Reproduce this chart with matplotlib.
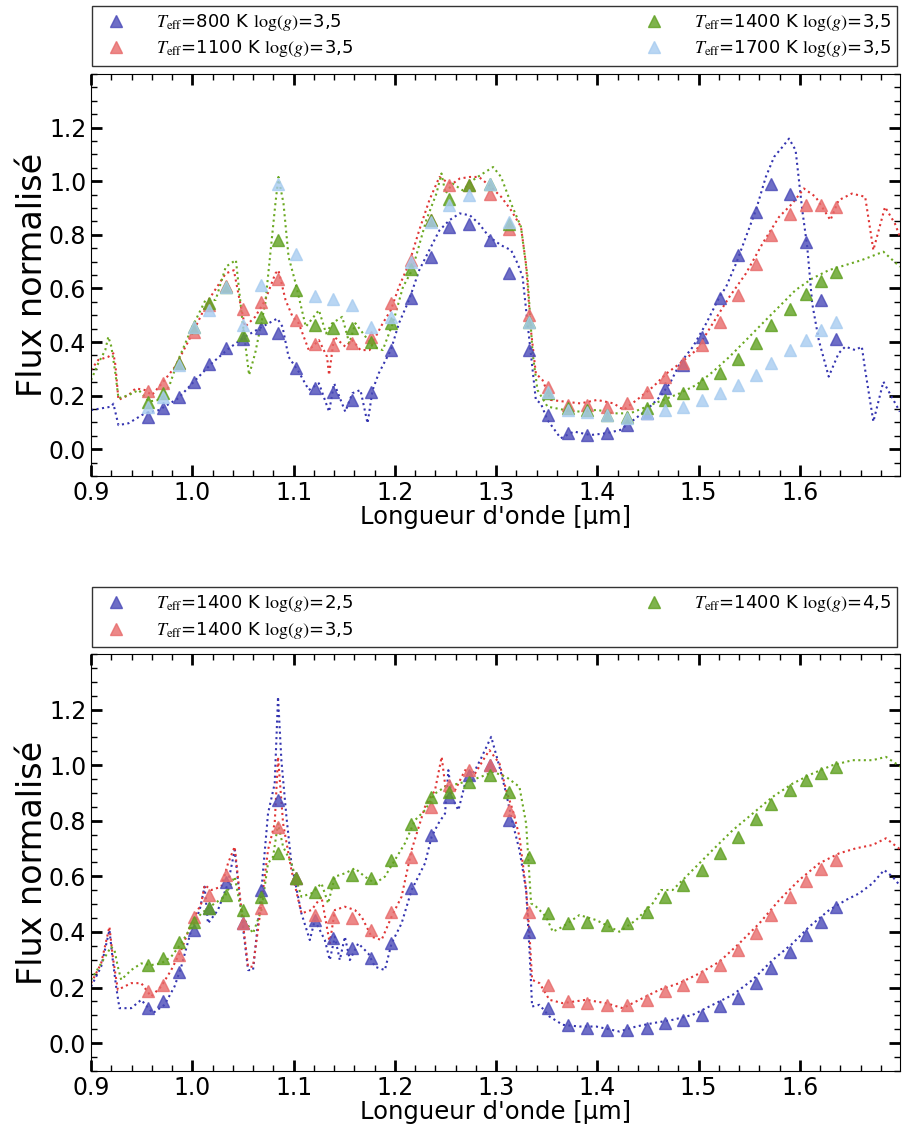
"""
Spectres normalisés : modèles vs points IFS (deux panneaux).
"""

import matplotlib
matplotlib.use("Agg")
import matplotlib.pyplot as plt
from matplotlib.ticker import MultipleLocator

plt.rcParams["mathtext.fontset"] = "stix"

# longueurs d'onde des canaux (µm)
CHANNELS = [0.956, 0.9707, 0.9865, 1.002, 1.0167, 1.0332, 1.0496, 1.0677, 1.0847, 1.1028,
            1.1209, 1.139, 1.158, 1.176, 1.1957, 1.2155, 1.2352, 1.2539, 1.2736, 1.2943,
            1.3123, 1.332, 1.351, 1.3707, 1.3895, 1.409, 1.4289, 1.4486, 1.4667, 1.4847,
            1.5028, 1.5209, 1.539, 1.557, 1.5718, 1.5898, 1.6062, 1.621, 1.6358]

# ---- panneau du haut : log(g)=3,5, Teff variable ----
pts_800 = [0.122, 0.153, 0.194, 0.25, 0.318, 0.376, 0.41, 0.451, 0.432, 0.304,
           0.227, 0.212, 0.184, 0.215, 0.37, 0.563, 0.718, 0.83, 0.842, 0.78,
           0.658, 0.37, 0.128, 0.06, 0.053, 0.062, 0.091, 0.135, 0.227, 0.314,
           0.42, 0.563, 0.724, 0.886, 0.991, 0.954, 0.774, 0.557, 0.41]
pts_1100 = [0.219, 0.246, 0.32, 0.438, 0.538, 0.609, 0.525, 0.55, 0.637, 0.484,
            0.393, 0.389, 0.395, 0.42, 0.544, 0.706, 0.855, 0.985, 0.985, 0.954,
            0.82, 0.50, 0.234, 0.165, 0.165, 0.159, 0.171, 0.215, 0.271, 0.32,
            0.389, 0.475, 0.575, 0.693, 0.799, 0.877, 0.911, 0.911, 0.904]
pts_1400 = [0.178, 0.209, 0.32, 0.457, 0.544, 0.606, 0.426, 0.494, 0.78, 0.594,
            0.463, 0.451, 0.451, 0.401, 0.47, 0.671, 0.855, 0.935, 0.985, 0.99,
            0.842, 0.476, 0.209, 0.153, 0.147, 0.128, 0.122, 0.153, 0.184, 0.209,
            0.246, 0.283, 0.335, 0.398, 0.463, 0.525, 0.581, 0.629, 0.662]
pts_1700 = [0.159, 0.196, 0.314, 0.457, 0.519, 0.606, 0.463, 0.612, 0.991, 0.73,
            0.571, 0.559, 0.538, 0.457, 0.494, 0.699, 0.848, 0.911, 0.948, 0.99,
            0.848, 0.476, 0.215, 0.147, 0.14, 0.128, 0.116, 0.134, 0.147, 0.159,
            0.184, 0.209, 0.24, 0.277, 0.32, 0.37, 0.407, 0.445, 0.476]

wl_800 = [0.9, 0.920, 0.922, 0.927, 0.937, 0.953, 0.967, 0.986, 1.003, 1.019, 1.036, 1.052,
          1.069, 1.084, 1.089, 1.095, 1.105, 1.115, 1.125, 1.135, 1.140, 1.151, 1.158, 1.166,
          1.173, 1.178, 1.184, 1.196, 1.204, 1.214, 1.224, 1.234, 1.244, 1.254, 1.264, 1.274,
          1.283, 1.293, 1.3049, 1.3147, 1.3212, 1.3261, 1.331, 1.336, 1.3392, 1.3441, 1.3507,
          1.3637, 1.3768, 1.3931, 1.4095, 1.4225, 1.4356, 1.4487, 1.4618, 1.4716, 1.4814,
          1.4944, 1.5075, 1.5206, 1.5271, 1.5369, 1.5467, 1.5565, 1.5663, 1.5745, 1.5827,
          1.5892, 1.5957, 1.6023, 1.6072, 1.6121, 1.6186, 1.6284, 1.6382, 1.6448, 1.6546,
          1.6611, 1.6644, 1.6725, 1.6824, 1.6905, 1.6987]
fl_800 = [0.146, 0.159, 0.17, 0.09, 0.097, 0.134, 0.146, 0.19, 0.258, 0.32, 0.376, 0.42,
          0.457, 0.488, 0.457, 0.345, 0.289, 0.221, 0.246, 0.14, 0.246, 0.14, 0.209, 0.221,
          0.097, 0.221, 0.283, 0.37, 0.47, 0.557, 0.668, 0.743, 0.817, 0.855, 0.88, 0.873,
          0.842, 0.793, 0.761, 0.743, 0.693, 0.643, 0.47, 0.296, 0.184, 0.171, 0.109,
          0.041, 0.066, 0.053, 0.06, 0.072, 0.109, 0.147, 0.196, 0.246, 0.32,
          0.383, 0.47, 0.569, 0.606, 0.693, 0.793, 0.892, 1.016, 1.091, 1.128,
          1.159, 1.116, 0.892, 0.755, 0.544, 0.407, 0.271, 0.358, 0.383, 0.37,
          0.383, 0.296, 0.103, 0.252, 0.196, 0.14]

wl_1100 = [0.9, 0.907, 0.917, 0.922, 0.924, 0.927, 0.937, 0.944, 0.953, 0.960, 0.970, 0.983,
           1.0, 1.016, 1.033, 1.041, 1.046, 1.052, 1.062, 1.072, 1.082, 1.085, 1.092, 1.099,
           1.105, 1.115, 1.125, 1.133, 1.135, 1.140, 1.151, 1.158, 1.166, 1.175, 1.181, 1.188,
           1.196, 1.204, 1.214, 1.224, 1.234, 1.244, 1.251, 1.257, 1.264, 1.274, 1.283, 1.293,
           1.3049, 1.3147, 1.3245, 1.3294, 1.3343, 1.3392, 1.3458, 1.3539, 1.367, 1.3833,
           1.3997, 1.416, 1.4258, 1.4389, 1.4552, 1.4683, 1.4814, 1.4977, 1.514, 1.5304,
           1.5467, 1.5631, 1.5794, 1.5925, 1.6039, 1.6154, 1.6301, 1.6382, 1.6513, 1.6644,
           1.6725, 1.684, 1.6938, 1.6987]
fl_1100 = [0.296, 0.333, 0.345, 0.358, 0.314, 0.184, 0.202, 0.227, 0.221, 0.202, 0.246, 0.308,
           0.432, 0.557, 0.656, 0.668, 0.569, 0.457, 0.494, 0.557, 0.656, 0.668, 0.557, 0.494,
           0.47, 0.37, 0.407, 0.345, 0.277, 0.42, 0.383, 0.407, 0.37, 0.37, 0.42, 0.47,
           0.519, 0.606, 0.693, 0.817, 0.929, 1.016, 0.998, 0.991, 1.01, 1.016, 1.016, 0.985,
           0.942, 0.892, 0.83, 0.693, 0.445, 0.283, 0.258, 0.184, 0.178, 0.171,
           0.184, 0.171, 0.147, 0.184, 0.234, 0.283, 0.32, 0.37, 0.47, 0.569,
           0.656, 0.768, 0.867, 0.917, 0.973, 0.942, 0.855, 0.929, 0.954, 0.942,
           0.743, 0.904, 0.842, 0.793]

wl_1400 = [0.9, 0.907, 0.914, 0.917, 0.920, 0.924, 0.927, 0.937, 0.947, 0.957, 0.967, 0.977,
           0.986, 1.0, 1.013, 1.023, 1.033, 1.043, 1.049, 1.056, 1.062, 1.072, 1.082, 1.085,
           1.090, 1.095, 1.102, 1.112, 1.125, 1.132, 1.138, 1.148, 1.155, 1.161, 1.171, 1.178,
           1.188, 1.198, 1.208, 1.217, 1.231, 1.241, 1.246, 1.250, 1.257, 1.267, 1.277, 1.287,
           1.297, 1.3049, 1.3147, 1.3245, 1.331, 1.336, 1.3408, 1.3507, 1.367, 1.3833, 1.3997,
           1.416, 1.4324, 1.4487, 1.465, 1.4814, 1.4977, 1.514, 1.5304, 1.5467, 1.5631, 1.5794,
           1.5957, 1.6121, 1.6284, 1.6448, 1.6611, 1.6824, 1.6987]
fl_1400 = [0.258, 0.32, 0.37, 0.42, 0.383, 0.283, 0.19, 0.202, 0.221, 0.178, 0.184, 0.234,
           0.333, 0.457, 0.557, 0.557, 0.681, 0.706, 0.494, 0.277, 0.358, 0.544, 0.917, 1.016,
           0.917, 0.718, 0.619, 0.457, 0.519, 0.432, 0.47, 0.494, 0.395, 0.47, 0.42, 0.383,
           0.37, 0.47, 0.606, 0.668, 0.855, 0.954, 1.029, 0.954, 0.991, 0.966, 1.004, 1.029,
           1.053, 1.016, 0.917, 0.83, 0.643, 0.358, 0.221, 0.159, 0.147, 0.14, 0.147,
           0.134, 0.134, 0.159, 0.184, 0.209, 0.24, 0.289, 0.345, 0.407, 0.47, 0.532,
           0.594, 0.637, 0.668, 0.687, 0.706, 0.737, 0.681]

# ---- panneau du bas : Teff=1400 K, log(g) variable ----
pts_g25 = [0.126, 0.15, 0.257, 0.407, 0.485, 0.581, 0.431, 0.551, 0.874, 0.593,
           0.443, 0.377, 0.341, 0.305, 0.359, 0.557, 0.749, 0.886, 0.964, 1.0,
           0.802, 0.401, 0.126, 0.066, 0.054, 0.048, 0.048, 0.054, 0.072, 0.084,
           0.102, 0.132, 0.162, 0.216, 0.269, 0.329, 0.389, 0.437, 0.491]
pts_g35 = [0.186, 0.21, 0.317, 0.455, 0.533, 0.605, 0.431, 0.485, 0.778, 0.593,
           0.461, 0.455, 0.449, 0.407, 0.473, 0.671, 0.85, 0.928, 0.982, 1.0,
           0.838, 0.473, 0.21, 0.15, 0.144, 0.138, 0.138, 0.156, 0.186, 0.21,
           0.24, 0.281, 0.335, 0.398, 0.461, 0.525, 0.583, 0.625, 0.659]
pts_g45 = [0.281, 0.305, 0.365, 0.437, 0.485, 0.533, 0.479, 0.527, 0.683, 0.593,
           0.545, 0.581, 0.605, 0.593, 0.659, 0.79, 0.886, 0.904, 0.94, 0.964,
           0.904, 0.671, 0.467, 0.434, 0.437, 0.425, 0.431, 0.473, 0.527, 0.569,
           0.623, 0.683, 0.743, 0.805, 0.862, 0.91, 0.948, 0.972, 0.992]

wl_g25 = [0.9, 0.9099, 0.9181, 0.9214, 0.9247, 0.928, 0.9396, 0.9495, 0.961, 0.9725, 0.9824,
          0.989, 0.9989, 1.0072, 1.0121, 1.0154, 1.0253, 1.0352, 1.0418, 1.0484, 1.055, 1.0599,
          1.0682, 1.0747, 1.0813, 1.0846, 1.0879, 1.0929, 1.0978, 1.1077, 1.116, 1.1209,
          1.1308, 1.1357, 1.1407, 1.1456, 1.1506, 1.1555, 1.1638, 1.1737, 1.1803, 1.1901,
          1.1967, 1.2066, 1.2165, 1.2297, 1.2363, 1.2429, 1.2495, 1.2528, 1.2561, 1.2627,
          1.2693, 1.2792, 1.2858, 1.2951, 1.3033, 1.3099, 1.3164, 1.323, 1.3296, 1.3329,
          1.3355, 1.3428, 1.3526, 1.3658, 1.3822, 1.3987, 1.4217, 1.4382, 1.4546, 1.4743,
          1.4941, 1.5138, 1.5336, 1.5533, 1.573, 1.5928, 1.6092, 1.6289, 1.6454, 1.6586,
          1.6717, 1.6832, 1.6914, 1.6997]
fl_g25 = [0.204, 0.275, 0.407, 0.299, 0.204, 0.126, 0.126, 0.156, 0.108, 0.138, 0.204,
          0.275, 0.407, 0.479, 0.563, 0.431, 0.479, 0.575, 0.695, 0.467, 0.263, 0.263,
          0.551, 0.826, 0.934, 1.246, 1.018, 0.814, 0.647, 0.467, 0.371, 0.443,
          0.371, 0.299, 0.383, 0.299, 0.383, 0.299, 0.359, 0.323, 0.275, 0.263,
          0.359, 0.431, 0.551, 0.647, 0.743, 0.79, 0.826, 0.982, 0.886, 0.838,
          0.934, 0.982, 1.03, 1.102, 0.994, 0.898, 0.79, 0.695, 0.551, 0.335,
          0.132, 0.138, 0.096, 0.066, 0.06, 0.06, 0.042, 0.06, 0.072, 0.084,
          0.102, 0.138, 0.174, 0.228, 0.299, 0.359, 0.419, 0.479, 0.515, 0.539,
          0.575, 0.623, 0.599, 0.563]

wl_g35 = [0.9, 0.9099, 0.9181, 0.9214, 0.9264, 0.9396, 0.9495, 0.9593, 0.9692, 0.9791, 0.989,
          0.9989, 1.0088, 1.0121, 1.0187, 1.0286, 1.0352, 1.0418, 1.0484, 1.055, 1.0599,
          1.0682, 1.0747, 1.0813, 1.0846, 1.0896, 1.0978, 1.1077, 1.1176, 1.1275, 1.1357,
          1.1407, 1.1506, 1.1605, 1.1671, 1.177, 1.1868, 1.1967, 1.2066, 1.2165, 1.2297,
          1.2396, 1.2462, 1.2511, 1.2594, 1.2693, 1.2792, 1.2891, 1.2934, 1.3033, 1.3099,
          1.3164, 1.323, 1.3296, 1.3329, 1.3355, 1.3428, 1.3526, 1.3658, 1.3888, 1.4086,
          1.425, 1.4414, 1.4612, 1.4809, 1.5007, 1.5204, 1.5401, 1.5599, 1.5796, 1.5993,
          1.6191, 1.6388, 1.6553, 1.6717, 1.6849, 1.6997]
fl_g35 = [0.216, 0.287, 0.419, 0.311, 0.192, 0.216, 0.216, 0.168, 0.204, 0.263, 0.335,
          0.431, 0.503, 0.569, 0.551, 0.563, 0.647, 0.707, 0.479, 0.275, 0.275,
          0.503, 0.695, 0.79, 1.03, 0.79, 0.623, 0.467, 0.479, 0.527, 0.359,
          0.479, 0.491, 0.479, 0.455, 0.383, 0.371, 0.455, 0.527, 0.695, 0.85,
          0.91, 1.03, 0.886, 0.91, 0.982, 0.97, 1.03, 1.054, 1.006, 0.91,
          0.838, 0.743, 0.551, 0.395, 0.228, 0.216, 0.156, 0.144, 0.156, 0.144,
          0.126, 0.156, 0.192, 0.216, 0.251, 0.293, 0.359, 0.431, 0.515, 0.587,
          0.647, 0.683, 0.701, 0.713, 0.737, 0.695]

wl_g45 = [0.9, 0.9099, 0.9198, 0.9231, 0.9264, 0.9297, 0.9396, 0.9495, 0.9593, 0.9692,
          0.9791, 0.989, 0.9989, 1.0088, 1.022, 1.0319, 1.0418, 1.0467, 1.0517, 1.0599,
          1.0682, 1.0747, 1.0797, 1.0846, 1.0896, 1.0978, 1.1077, 1.1176, 1.1275, 1.1341,
          1.1407, 1.1506, 1.1605, 1.1704, 1.1803, 1.1901, 1.2, 1.2099, 1.2198, 1.2297,
          1.2396, 1.2495, 1.2627, 1.2759, 1.2891, 1.2967, 1.3099, 1.323, 1.3296, 1.3345,
          1.3395, 1.3493, 1.3559, 1.3658, 1.3822, 1.3987, 1.4217, 1.4382, 1.4546, 1.4628,
          1.4743, 1.4941, 1.5138, 1.5336, 1.5533, 1.573, 1.5928, 1.6125, 1.6322, 1.652,
          1.6717, 1.6849, 1.6997]
fl_g45 = [0.228, 0.287, 0.347, 0.335, 0.275, 0.228, 0.263, 0.287, 0.281, 0.287,
          0.311, 0.359, 0.419, 0.467, 0.503, 0.527, 0.599, 0.503, 0.443, 0.395,
          0.479, 0.647, 0.671, 0.79, 0.707, 0.647, 0.527, 0.539, 0.575, 0.503,
          0.599, 0.611, 0.629, 0.599, 0.575, 0.599, 0.659, 0.719, 0.802, 0.838,
          0.898, 0.922, 0.934, 0.946, 0.964, 0.976, 0.958, 0.922, 0.79, 0.503,
          0.491, 0.455, 0.401, 0.419, 0.461, 0.443, 0.401, 0.443, 0.503, 0.551,
          0.551, 0.623, 0.695, 0.766, 0.826, 0.886, 0.934, 0.97, 1.0, 1.018,
          1.018, 1.03, 0.994]

LABELS_TOP = [r"$T_{\rm eff}$=800 K $\log(g)$=3,5", r"$T_{\rm eff}$=1100 K $\log(g)$=3,5",
              r"$T_{\rm eff}$=1400 K $\log(g)$=3,5", r"$T_{\rm eff}$=1700 K $\log(g)$=3,5"]
LABELS_BOT = [r"$T_{\rm eff}$=1400 K $\log(g)$=2,5", r"$T_{\rm eff}$=1400 K $\log(g)$=3,5",
              r"$T_{\rm eff}$=1400 K $\log(g)$=4,5"]

LINE_COLORS = ["#3434b0", "#e03535", "#6aa820"]
MARK_COLORS = ["#4a4ab8", "#e86a6a", "#5fa020", "#a8ccf0"]


def style_axes(ax):
    ax.set_xlim(0.9, 1.699)
    ax.set_ylim(-0.1, 1.4)
    ax.xaxis.set_major_locator(MultipleLocator(0.1))
    ax.xaxis.set_minor_locator(MultipleLocator(0.02))
    ax.yaxis.set_major_locator(MultipleLocator(0.2))
    ax.yaxis.set_minor_locator(MultipleLocator(0.05))
    ax.set_yticks([0.0, 0.2, 0.4, 0.6, 0.8, 1.0, 1.2])
    ax.tick_params(which="both", direction="in", top=True, right=True, labelsize=17)
    ax.tick_params(which="major", length=8, width=2)
    ax.tick_params(which="minor", length=4, width=1)
    ax.set_xlabel("Longueur d'onde [µm]", fontsize=17.5, labelpad=0)
    ax.set_ylabel("Flux normalisé", fontsize=24, labelpad=0)


def panel(ax, lines, points, labels, colors):
    for (wl, fl), c in zip(lines, LINE_COLORS):
        ax.plot(wl, fl, linestyle=":", color=c, lw=1.5)
    handles = []
    for pts, c, lab in zip(points, colors, labels):
        h, = ax.plot(CHANNELS, pts, "^", color=c, ms=9, alpha=0.8,
                     markeredgecolor=c, label=lab)
        handles.append(h)
    return handles


def main():
    fig = plt.figure(figsize=(9.02, 11.27), dpi=100)
    ax1 = fig.add_axes([0.101, 0.5776, 0.897, 0.3567])
    ax2 = fig.add_axes([0.101, 0.0497, 0.897, 0.370])

    h1 = panel(ax1, [(wl_800, fl_800), (wl_1100, fl_1100), (wl_1400, fl_1400)],
               [pts_800, pts_1100, pts_1400, pts_1700], LABELS_TOP, MARK_COLORS)
    h2 = panel(ax2, [(wl_g25, fl_g25), (wl_g35, fl_g35), (wl_g45, fl_g45)],
               [pts_g25, pts_g35, pts_g45], LABELS_BOT, MARK_COLORS[:3])

    for ax, hs, top in ((ax1, h1, 0.997), (ax2, h2, 0.481)):
        style_axes(ax)
        leg = fig.legend(handles=hs, loc="upper left", ncol=2, mode="expand",
                         bbox_to_anchor=(0.102, top - 0.06, 0.893, 0.058),
                         fontsize=13, frameon=True, fancybox=False,
                         edgecolor="black", borderaxespad=0, handletextpad=1.2,
                         borderpad=0.35, labelspacing=0.3)
        leg.get_frame().set_linewidth(1.0)

    fig.savefig("out.png", dpi=100)
    plt.close(fig)


if __name__ == "__main__":
    main()
